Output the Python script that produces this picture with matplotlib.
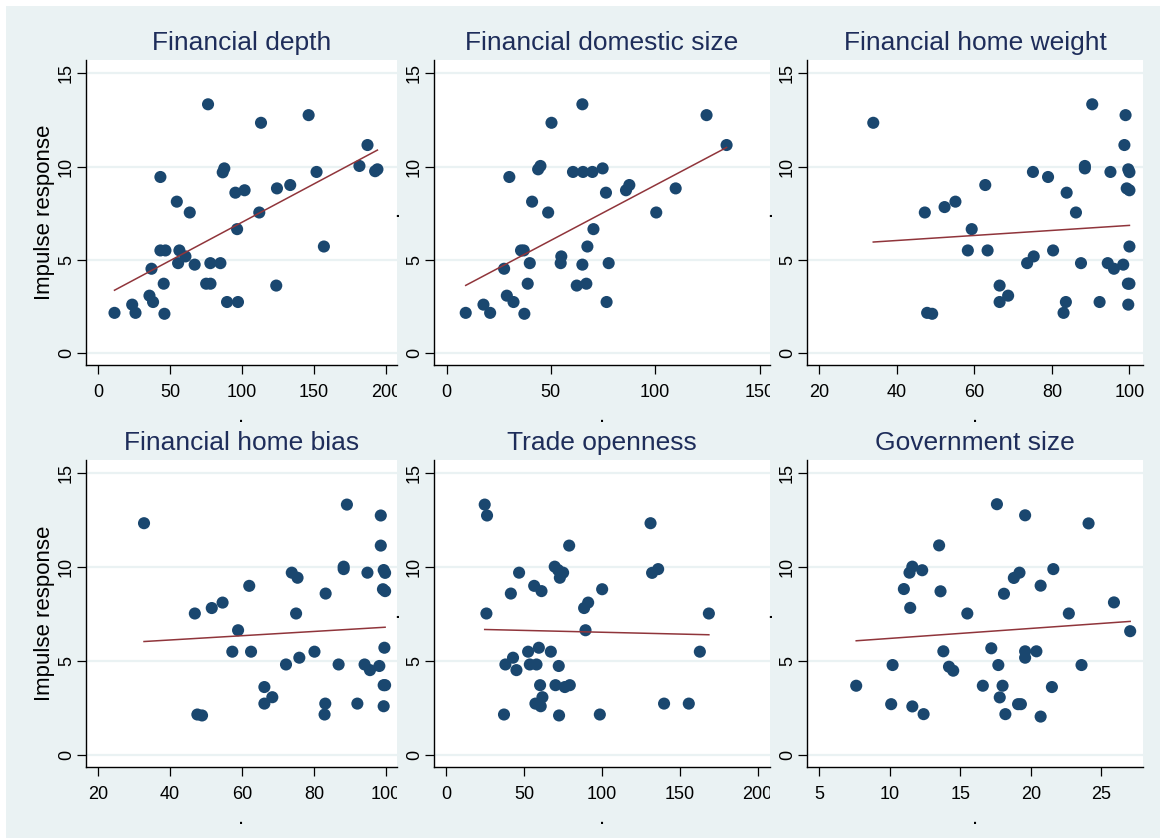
import matplotlib
matplotlib.use("Agg")
import matplotlib.pyplot as plt
from matplotlib.patches import Rectangle
from matplotlib.transforms import Bbox, TransformedBbox
import numpy as np

plt.rcParams['font.family'] = ['Liberation Sans', 'DejaVu Sans']

# panel titles
titles = ["Financial depth", "Financial domestic size", "Financial home weight",
          "Financial home bias", "Trade openness", "Government size"]

# Financial depth
depth_x = [76.3, 146.2, 113.1, 187.1, 181.5, 192.4, 194.0, 87.6, 86.5, 151.7, 43.2,
           133.4, 124.2, 101.7, 95.3, 54.6, 63.6, 111.9, 96.5, 156.8, 43.2, 46.7,
           56.4, 60.6, 55.5, 67.0, 77.9, 84.9, 37.0, 45.5, 75.0, 78.0, 123.7, 35.6,
           38.1, 23.6, 89.5, 97.1, 11.3, 25.9, 46.0]
depth_y = [13.33, 12.75, 12.34, 11.15, 10.03, 9.75, 9.85, 9.9, 9.69, 9.71, 9.44,
           9.01, 8.83, 8.73, 8.6, 8.12, 7.54, 7.54, 6.65, 5.72, 5.51, 5.51,
           5.51, 5.19, 4.83, 4.75, 4.83, 4.83, 4.53, 3.73, 3.73, 3.73, 3.63, 3.09,
           2.75, 2.61, 2.75, 2.75, 2.17, 2.17, 2.12]

# Financial domestic size
dom_x = [9.2, 17.7, 20.9, 27.6, 28.9, 32.1, 30.1, 35.7, 37.0, 39.9, 38.9, 37.3,
         41.0, 43.9, 45.0, 48.7, 50.3, 55.0, 54.7, 60.6, 65.1, 65.4, 69.9, 74.8,
         65.1, 62.4, 67.0, 67.5, 70.4, 76.4, 77.7, 76.7, 86.0, 87.6, 100.5, 109.8,
         124.6, 134.2]
dom_y = [2.17, 2.61, 2.17, 4.53, 3.09, 2.75, 9.44, 5.51, 5.51, 4.83, 3.73, 2.12,
         8.12, 9.85, 10.03, 7.54, 12.34, 5.19, 4.83, 9.71, 13.33, 9.71, 9.71, 9.9,
         4.75, 3.63, 3.73, 5.72, 6.65, 8.6, 4.83, 2.75, 8.73, 9.01, 7.54, 8.83,
         12.75, 11.15]

# Financial home weight
weight_x = [33.9, 90.4, 99.0, 98.7, 88.5, 88.5, 99.7, 100.0, 95.1, 75.1, 79.0, 62.8,
            83.8, 99.3, 100.0, 55.1, 52.3, 47.2, 86.2, 59.3, 100.0, 58.3, 63.4, 80.3,
            75.3, 73.6, 87.5, 94.4, 96.0, 98.4, 66.5, 68.7, 66.5, 99.6, 100.0, 83.6,
            92.3, 99.7, 47.8, 49.1, 83.0]
weight_y = [12.34, 13.33, 12.75, 11.15, 10.03, 9.9, 9.85, 9.7, 9.71, 9.71, 9.44, 9.01,
            8.6, 8.83, 8.73, 8.12, 7.83, 7.54, 7.54, 6.65, 5.72, 5.51, 5.51, 5.51,
            5.19, 4.83, 4.83, 4.83, 4.53, 4.75, 3.63, 3.09, 2.75, 3.73, 3.73, 2.75,
            2.75, 2.61, 2.17, 2.12, 2.17]

# Financial home bias
bias_x = [32.8, 89.1, 98.5, 98.5, 88.2, 88.2, 99.3, 99.7, 94.8, 73.8, 75.4, 62.0,
          83.2, 99.1, 99.7, 54.6, 51.6, 46.9, 75.0, 58.9, 99.5, 57.3, 62.5, 80.1,
          75.9, 72.2, 86.8, 94.0, 95.5, 98.1, 66.2, 68.4, 66.2, 99.3, 99.7, 83.1,
          92.0, 99.3, 47.6, 48.9, 82.9]
bias_y = weight_y

# Trade openness
trade_x = [24.6, 26.1, 25.7, 131.2, 78.9, 46.7, 69.6, 71.8, 75.0, 72.9, 132.2, 136.1,
           56.4, 41.4, 61.1, 100.1, 88.5, 91.1, 168.7, 89.4, 162.9, 52.5, 59.4, 67.1,
           42.8, 37.9, 53.6, 57.9, 45.0, 72.2, 60.2, 70.1, 76.1, 79.3, 61.7, 57.2,
           60.6, 139.9, 155.8, 37.0, 72.4, 98.6]
trade_y = [13.33, 12.75, 7.54, 12.34, 11.15, 9.71, 10.03, 9.85, 9.71, 9.44, 9.7, 9.9,
           9.01, 8.6, 8.73, 8.83, 7.83, 8.12, 7.54, 6.65, 5.51, 5.51, 5.72, 5.51,
           5.19, 4.83, 4.83, 4.83, 4.53, 4.75, 3.73, 3.73, 3.63, 3.73, 3.09, 2.75,
           2.61, 2.75, 2.75, 2.17, 2.12, 2.17]

# Government size
gov_x = [7.62, 10.2, 10.1, 11.0, 11.45, 11.4, 11.6, 12.3, 11.6, 12.4, 13.5, 13.6,
         13.8, 14.2, 14.5, 15.5, 16.6, 17.2, 17.6, 17.7, 18.0, 17.8, 18.2, 18.1,
         18.8, 19.2, 19.1, 19.3, 19.6, 19.6, 19.6, 20.4, 20.7, 20.7, 21.5, 21.6,
         22.7, 23.6, 24.1, 25.9, 27.05]
gov_y = [3.7, 4.8, 2.72, 8.84, 7.84, 9.71, 10.03, 9.84, 2.6, 2.19, 11.16, 8.72,
         5.53, 4.71, 4.5, 7.54, 3.7, 5.69, 13.35, 4.8, 3.7, 3.08, 2.19, 8.59,
         9.43, 9.71, 2.72, 2.72, 12.76, 5.53, 5.19, 5.53, 9.02, 2.06, 3.63, 9.9,
         7.54, 4.8, 12.33, 8.13, 6.6]

# fitted line values at the smallest and largest x of each panel
fit_start = [3.38, 3.64, 5.96, 6.05, 6.69, 6.09]
fit_end = [10.88, 11.02, 6.85, 6.81, 6.41, 7.12]

xs = [depth_x, dom_x, weight_x, bias_x, trade_x, gov_x]
ys = [depth_y, dom_y, weight_y, bias_y, trade_y, gov_y]
xticks = [[0, 50, 100, 150, 200], [0, 50, 100, 150], [20, 40, 60, 80, 100],
          [20, 40, 60, 80, 100], [0, 50, 100, 150, 200], [5, 10, 15, 20, 25]]
xlims = [(-8.5, 207.6), (-6, 155), (16.8, 103.5),
         (16.7, 103.0), (-8, 208), (4.13, 27.96)]

BG = "#EAF2F3"
NAVY = "#1A476F"
MAROON = "#90353B"
TITLE_C = "#1E2D5A"
W, H = 1160, 838

fig = plt.figure(figsize=(11.6, 8.38), dpi=100, facecolor="white")
fig.patches.append(Rectangle((6 / W, 0), 1, 1 - 6 / H, transform=fig.transFigure,
                             facecolor=BG, edgecolor="none", zorder=-10))

cols = [(86, 397), (434, 770), (807, 1143)]
rows = [(60, 365), (460, 767)]

for i in range(6):
    r, c = divmod(i, 3)
    x0, x1 = cols[c]
    y0, y1 = rows[r]
    ax = fig.add_axes([x0 / W, 1 - y1 / H, (x1 - x0) / W, (y1 - y0) / H])
    ax.set_facecolor("white")
    for s in ["top", "right"]:
        ax.spines[s].set_visible(False)
    for s in ["left", "bottom"]:
        ax.spines[s].set_linewidth(1.0)

    ax.set_ylim(-0.62, 15.7)
    ax.set_xlim(*xlims[i])
    ax.set_yticks([0, 5, 10, 15])
    ax.set_xticks(xticks[i])
    ax.set_yticklabels(["0", "5", "10", "15"], rotation=90, va="center")
    ax.grid(axis="y", color=BG, linewidth=1.6)
    ax.set_axisbelow(True)
    ax.tick_params(length=6.5, width=0.9, labelsize=13)
    ax.tick_params(axis="x", pad=7.5)
    ax.tick_params(axis="y", pad=1.5)

    x = np.array(xs[i])
    y = np.array(ys[i])
    ax.scatter(x, y, s=76, color=NAVY, edgecolors="none", zorder=3)
    ax.plot([x.min(), x.max()], [fit_start[i], fit_end[i]],
            color=MAROON, linewidth=1.1, zorder=4)

    ax.set_title(titles[i], fontsize=19, color=TITLE_C, pad=7)
    ax.set_xlabel(".", fontsize=16, labelpad=3)
    if c == 0:
        ax.set_ylabel("Impulse response", fontsize=16, labelpad=2)
    else:
        ax.set_ylabel(".", fontsize=16, labelpad=2)

    if c < 2:
        clip = TransformedBbox(Bbox.from_extents(0, 0, x1 / W, 1), fig.transFigure)
        for lbl in ax.get_xticklabels():
            lbl.set_clip_on(True)
            lbl.set_clip_box(clip)

fig.savefig("out.png", dpi=100, facecolor=fig.get_facecolor())
